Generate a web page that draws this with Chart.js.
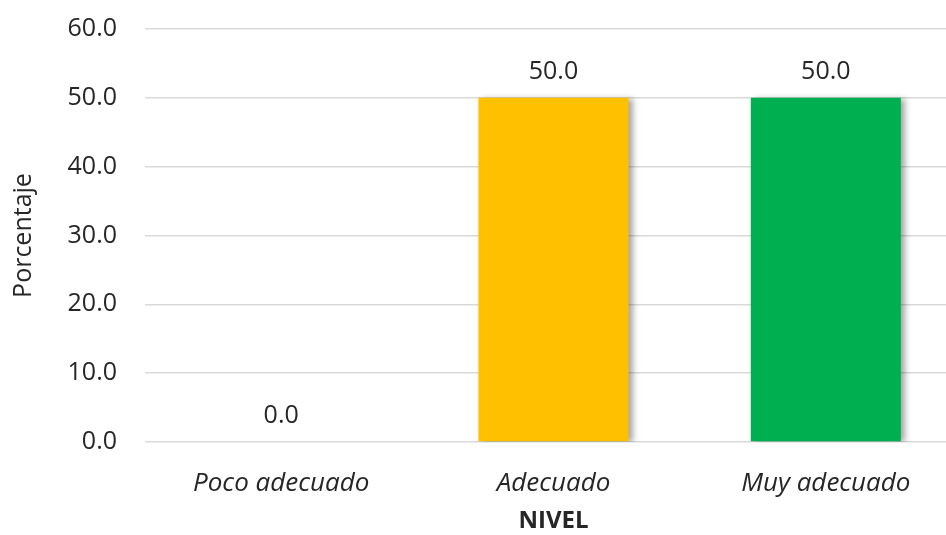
<!DOCTYPE html>
<html>
<head>
<meta charset="utf-8">
<script src="https://cdn.jsdelivr.net/npm/chart.js@4"></script>
<style>
  html, body { margin: 0; padding: 0; background: #ffffff; overflow: hidden; }
  #wrap { width: 962px; height: 535px; position: relative; }
</style>
</head>
<body>
<div id="wrap"><canvas id="c"></canvas></div>
<script>
const categories = ["Poco adecuado", "Adecuado", "Muy adecuado"];
const values = [0.0, 50.0, 50.0];
const barColors = ["#7F7F7F", "#FFC000", "#00B050"];
const yTicks = [0, 10, 20, 30, 40, 50, 60];
const yTitle = "Porcentaje";
const xTitle = "NIVEL";

const FONT = "'Open Sans', 'Noto Sans', sans-serif";

const shadowPlugin = {
  id: 'barShadow',
  beforeDatasetDraw(chart) {
    const ctx = chart.ctx;
    ctx.save();
    ctx.shadowColor = 'rgba(0,0,0,0.35)';
    ctx.shadowBlur = 6;
    ctx.shadowOffsetX = 4;
    ctx.shadowOffsetY = 1;
  },
  afterDatasetDraw(chart) {
    chart.ctx.restore();
  }
};

const labelPlugin = {
  id: 'valueLabels',
  afterDatasetsDraw(chart) {
    const ctx = chart.ctx;
    const meta = chart.getDatasetMeta(0);
    ctx.save();
    ctx.font = "25px " + FONT;
    ctx.fillStyle = '#262626';
    ctx.textAlign = 'center';
    ctx.textBaseline = 'middle';
    meta.data.forEach((bar, i) => {
      const v = chart.data.datasets[0].data[i];
      ctx.fillText(v.toFixed(1), bar.x, bar.y - 26);
    });
    ctx.restore();
  }
};

new Chart(document.getElementById('c'), {
  type: 'bar',
  data: {
    labels: categories,
    datasets: [{
      data: values,
      backgroundColor: barColors,
      borderWidth: 0,
      categoryPercentage: 1.0,
      barPercentage: 0.551
    }]
  },
  options: {
    responsive: true,
    maintainAspectRatio: false,
    animation: false,
    layout: { padding: { top: 29, left: 0, right: 0, bottom: 0 } },
    plugins: {
      legend: { display: false },
      tooltip: { enabled: false }
    },
    scales: {
      x: {
        grid: { display: false },
        border: { display: false },
        ticks: {
          color: '#262626',
          font: { family: FONT, size: 26, style: 'italic' },
          padding: 18,
          maxRotation: 0
        },
        title: {
          display: true,
          text: xTitle,
          color: '#262626',
          font: { family: FONT, size: 24, weight: 'bold' },
          padding: { top: 4, bottom: -1 }
        },
        afterFit(scale) { scale.height = 93; }
      },
      y: {
        min: 0,
        max: 60,
        afterBuildTicks(scale) { scale.ticks = yTicks.map(v => ({ value: v })); },
        grid: { color: '#D9D9D9', lineWidth: 1.5, drawTicks: false },
        border: { display: false },
        ticks: {
          color: '#262626',
          font: { family: FONT, size: 25 },
          padding: 28,
          callback: (v) => Number(v).toFixed(1)
        },
        title: {
          display: true,
          text: yTitle,
          color: '#262626',
          font: { family: FONT, size: 25 },
          padding: { top: 9, bottom: 4 }
        },
        afterFit(scale) {
          scale.width = 145;
          scale.paddingTop = 0;
          scale.paddingBottom = 0;
        }
      }
    }
  },
  plugins: [shadowPlugin, labelPlugin]
});
</script>
</body>
</html>
